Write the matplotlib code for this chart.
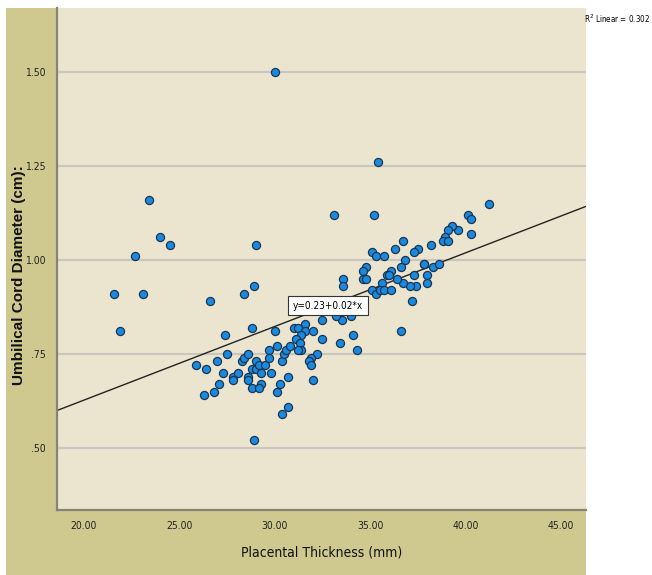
import matplotlib
matplotlib.use("Agg")
import matplotlib.pyplot as plt
from matplotlib.patches import Rectangle
import numpy as np

# Data
placental_thickness = [
    21.6, 21.9, 22.7, 23.1, 23.4, 24.0, 24.5, 26.6, 30.0, 29.0,
    28.9, 28.4, 28.8, 27.4, 30.0, 25.9, 26.4, 27.0, 27.5, 27.3,
    27.1, 26.8, 26.3, 27.8, 27.8, 28.1, 28.3, 28.4, 28.6, 28.6,
    28.6, 28.8, 28.8, 29.0, 29.0, 29.2, 29.3, 29.3, 29.2, 29.5,
    29.7, 29.7, 29.8, 30.1, 30.4, 30.5, 30.6, 30.8, 30.3, 30.1,
    30.7, 30.4, 30.7, 28.9, 33.1, 35.2, 35.1, 35.3, 35.7, 34.8,
    34.6, 34.6, 34.8, 33.6, 33.6, 35.6, 35.1, 35.3, 35.5, 35.7,
    36.1, 34.1, 34.0, 33.5, 33.2, 32.5, 31.6, 31.0, 31.2, 31.6,
    32.0, 31.4, 31.1, 31.3, 31.4, 31.2, 32.5, 34.1, 33.4, 34.3,
    32.2, 31.9, 31.8, 31.9, 32.0, 35.4, 41.2, 40.1, 40.3, 40.3,
    39.6, 39.3, 39.1, 38.9, 38.8, 39.1, 38.2, 37.5, 37.3, 36.7,
    36.3, 36.8, 36.6, 37.8, 37.8, 38.3, 38.6, 38.0, 38.0, 37.3,
    37.4, 37.1, 36.7, 36.4, 36.1, 35.9, 36.0, 37.2, 36.6,
]
cord_diameter = [
    0.91, 0.81, 1.01, 0.91, 1.16, 1.06, 1.04, 0.89, 1.50, 1.04,
    0.93, 0.91, 0.82, 0.80, 0.81, 0.72, 0.71, 0.73, 0.75, 0.70,
    0.67, 0.65, 0.64, 0.69, 0.68, 0.70, 0.73, 0.74, 0.75, 0.69,
    0.68, 0.66, 0.71, 0.73, 0.71, 0.72, 0.70, 0.67, 0.66, 0.72,
    0.76, 0.74, 0.70, 0.77, 0.73, 0.75, 0.76, 0.77, 0.67, 0.65,
    0.69, 0.59, 0.61, 0.52, 1.12, 1.12, 1.02, 1.01, 1.01, 0.98,
    0.97, 0.95, 0.95, 0.95, 0.93, 0.94, 0.92, 0.91, 0.92, 0.92,
    0.92, 0.88, 0.85, 0.84, 0.85, 0.84, 0.83, 0.82, 0.82, 0.81,
    0.81, 0.80, 0.79, 0.78, 0.76, 0.76, 0.79, 0.80, 0.78, 0.76,
    0.75, 0.74, 0.73, 0.72, 0.68, 1.26, 1.15, 1.12, 1.11, 1.07,
    1.08, 1.09, 1.08, 1.06, 1.05, 1.05, 1.04, 1.03, 1.02, 1.05,
    1.03, 1.00, 0.98, 0.99, 0.99, 0.98, 0.99, 0.96, 0.94, 0.96,
    0.93, 0.93, 0.94, 0.95, 0.97, 0.96, 0.96, 0.89, 0.81,
]
fit_intercept = 0.235
fit_slope = 0.0196
r2_value = 0.302
x_ticks = [20, 25, 30, 35, 40, 45]
x_tick_labels = ["20.00", "25.00", "30.00", "35.00", "40.00", "45.00"]
y_ticks = [0.50, 0.75, 1.00, 1.25, 1.50]
y_tick_labels = [".50", ".75", "1.00", "1.25", "1.50"]

W, H = 652, 575
fig = plt.figure(figsize=(W / 100, H / 100), dpi=100)
fig.patch.set_facecolor("white")

narrow = ["DejaVu Sans"]
sans = ["Liberation Sans", "DejaVu Sans"]
cond = dict(family=narrow, fontstretch="condensed")

# tan outer frame
fig.patches.append(Rectangle((6 / W, 0), (586 - 6) / W, 1 - 8 / H,
                             transform=fig.transFigure, facecolor="#d0c98f",
                             edgecolor="none", zorder=-10))

ax = fig.add_axes([57 / W, 1 - 510 / H, (586 - 57) / W, (510 - 8) / H])
ax.set_zorder(1)
ax.set_facecolor("#ebe5d0")
ax.set_xlim(18.6, 46.3)
ax.set_ylim(0.335, 1.67)

for yv in y_ticks:
    ax.axhline(yv, color="#c9c7bd", lw=1.6, zorder=1)

ax.scatter(placental_thickness, cord_diameter, s=34, facecolor="#1a8ae0",
           edgecolor="#1c3550", linewidth=0.9, zorder=3)

xs = np.array(ax.get_xlim())
ax.plot(xs, fit_intercept + fit_slope * xs, color="#222222", lw=1.0, zorder=2)

ax.text(30.95, 0.878, "y=0.23+0.02*x", fontsize=7.2, va="center", ha="left",
        zorder=5, bbox=dict(boxstyle="square,pad=0.45", facecolor="white",
                            edgecolor="#333333", linewidth=0.8), **cond)

for s in ["top", "right"]:
    ax.spines[s].set_visible(False)
for s in ["left", "bottom"]:
    ax.spines[s].set_color("#858575")
    ax.spines[s].set_linewidth(1.6)

ax.set_xticks(x_ticks)
ax.set_xticklabels(x_tick_labels, fontsize=7.5, **cond)
ax.set_yticks(y_ticks)
ax.set_yticklabels(y_tick_labels, fontsize=7.5, **cond)
ax.tick_params(length=0, pad=8, colors="#222222")

ax.set_xlabel("Placental Thickness (mm)", fontsize=10, color="#111111",
              **cond)
ax.xaxis.set_label_coords(0.5, -(545 - 510) / (510 - 8))
ax.set_ylabel("Umbilical Cord Diameter (cm):", family=sans, fontsize=11,
              fontweight="bold", color="#111111")
ax.yaxis.set_label_coords(-(57 - 26) / (586 - 57), (510 - 275) / (510 - 8))

fig.text(584 / W, 1 - 19 / H, "R$^2$ Linear = %.3f" % r2_value, fontsize=5.8,
         ha="left", va="center", **cond)

fig.savefig("out.png", dpi=100)
